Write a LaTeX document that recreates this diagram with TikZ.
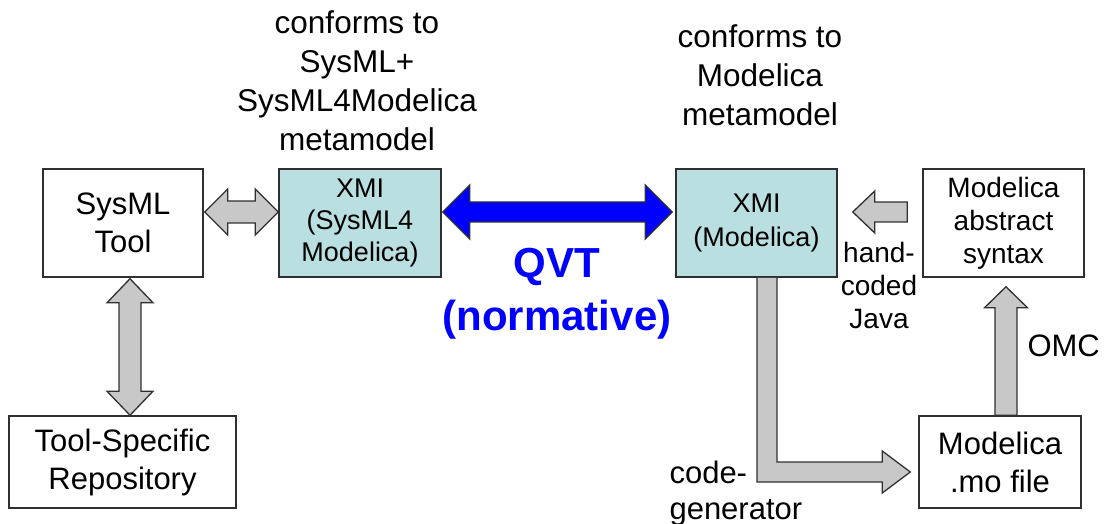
\documentclass[tikz,border=0pt]{standalone}
\usepackage{fontspec}
\setmainfont{Liberation Sans}
\usepackage{tikz}
\usetikzlibrary{calc}
\definecolor{BoxLine}{HTML}{303030}
\definecolor{XmiTeal}{HTML}{B9DFE1}
\definecolor{ArrowGrey}{HTML}{C8C8C8}
\definecolor{QvtBlue}{HTML}{0000FF}

% fat two-headed arrows: style, first tip, second tip, half shaft, half head, head length
\newcommand{\hboth}[6]{%
  \draw[#1] (#2) -- ($(#2)+(#6,-#5)$) -- ($(#2)+(#6,-#4)$)
    -- ($(#3)+(-#6,-#4)$) -- ($(#3)+(-#6,-#5)$) -- (#3)
    -- ($(#3)+(-#6,#5)$) -- ($(#3)+(-#6,#4)$)
    -- ($(#2)+(#6,#4)$) -- ($(#2)+(#6,#5)$) -- cycle;}
\newcommand{\vboth}[6]{%
  \draw[#1] (#2) -- ($(#2)+(#5,#6)$) -- ($(#2)+(#4,#6)$)
    -- ($(#3)+(#4,-#6)$) -- ($(#3)+(#5,-#6)$) -- (#3)
    -- ($(#3)+(-#5,-#6)$) -- ($(#3)+(-#4,-#6)$)
    -- ($(#2)+(-#4,#6)$) -- ($(#2)+(-#5,#6)$) -- cycle;}

\tikzset{
  box/.style={draw=BoxLine, line width=1.5pt, align=center, inner sep=0pt,
    minimum width=161pt, minimum height=108pt},
  xmibox/.style={box, fill=XmiTeal},
  fatarrow/.style={draw=BoxLine, fill=ArrowGrey, line width=1.3pt, line join=miter},
  bigtext/.style={font=\fontsize{31}{38}\selectfont},
  midtext/.style={font=\fontsize{28}{33}\selectfont},
  note/.style={align=center, font=\fontsize{31.5}{39}\selectfont}
}

\begin{document}
\begin{tikzpicture}[x=1pt, y=-1pt]
  \useasboundingbox (0,0) rectangle (1104,524);

  % boxes
  \node[box, bigtext, minimum width=160pt] (tool) at (123,223) {SysML\\Tool};
  \node[xmibox, font=\fontsize{27}{32}\selectfont, minimum width=162pt] (xmisys) at (360,223) {XMI\\(SysML4\\Modelica)};
  \node[xmibox, font=\fontsize{27}{34}\selectfont] (xmimod) at (756.5,223) {XMI\\(Modelica)};
  \node[box, midtext] (abs) at (1003.5,223) {Modelica\\abstract\\syntax};
  \node[box, bigtext, minimum width=227pt, minimum height=92pt] (repo) at (122.5,462) {Tool-Specific\\Repository};
  \node[box, bigtext, minimum width=162pt, minimum height=92pt] (mofile) at (1000,462) {Modelica\\.mo file};

  % labels
  \node[note] (confsys) at (357,81) {conforms to\\SysML+\\SysML4Modelica\\metamodel};
  \node[note] (confmod) at (760,75) {conforms to\\Modelica\\metamodel};
  \node[align=center, text=QvtBlue, font=\fontsize{42}{53}\selectfont\bfseries] (qvt) at (557,294) {QVT\\(normative)};
  \node[midtext, align=center] (java) at (879,285) {hand-\\coded\\Java};
  \node[bigtext, anchor=west] (omc) at (1024,346) {OMC};
  \node[bigtext, align=left, anchor=west, font=\fontsize{31}{36}\selectfont] (codegen) at (666,493) {code-\\generator};

  % arrow ends
  \coordinate (toolR) at ([xshift=1pt,yshift=11pt]tool.east);
  \coordinate (sysL) at ([yshift=11pt]xmisys.west);
  \coordinate (sysR) at ([xshift=1pt,yshift=11pt]xmisys.east);
  \coordinate (modL) at ([xshift=-3pt,yshift=11pt]xmimod.west);
  \coordinate (modR) at ([xshift=15pt,yshift=11pt]xmimod.east);
  \coordinate (absL) at ([xshift=-15pt,yshift=11pt]abs.west);
  \coordinate (toolB) at ([xshift=7pt,yshift=-1pt]tool.south);
  \coordinate (repoT) at ([xshift=7.5pt]repo.north);
  \coordinate (absB) at ([xshift=2.5pt,yshift=-9pt]abs.south);
  \coordinate (moT) at ([xshift=6pt]mofile.north);
  \coordinate (cgtop) at ([xshift=10.5pt]xmimod.south);
  \coordinate (cgtip) at ([xshift=-8pt,yshift=-10pt]mofile.west);
  \coordinate (cgbend) at (cgtop |- cgtip);

  % connectors
  \hboth{fatarrow}{toolR}{sysL}{11}{23}{23}
  \hboth{fatarrow, fill=QvtBlue}{sysR}{modL}{10}{27}{27}
  \vboth{fatarrow}{toolB}{repoT}{11}{23}{24}
  \draw[fatarrow] (modR) -- ($(modR)+(22,-21)$) -- ($(modR)+(22,-10)$) -- ($(absL)+(0,-10)$)
    -- ($(absL)+(0,10)$) -- ($(modR)+(22,10)$) -- ($(modR)+(22,21)$) -- cycle;
  \draw[fatarrow] (absB) -- ($(absB)+(21.5,21)$) -- ($(absB)+(11,21)$) -- ($(moT)+(11,0)$)
    -- ($(moT)+(-11,0)$) -- ($(absB)+(-11,21)$) -- ($(absB)+(-21.5,21)$) -- cycle;
  \draw[fatarrow] ($(cgtop)+(-10,0)$) -- ($(cgbend)+(-10,10)$) -- ($(cgtip)+(-28,10)$)
    -- ($(cgtip)+(-28,21)$) -- (cgtip) -- ($(cgtip)+(-28,-21)$) -- ($(cgtip)+(-28,-10)$)
    -- ($(cgbend)+(10,-10)$) -- ($(cgtop)+(10,0)$);
\end{tikzpicture}
\end{document}
